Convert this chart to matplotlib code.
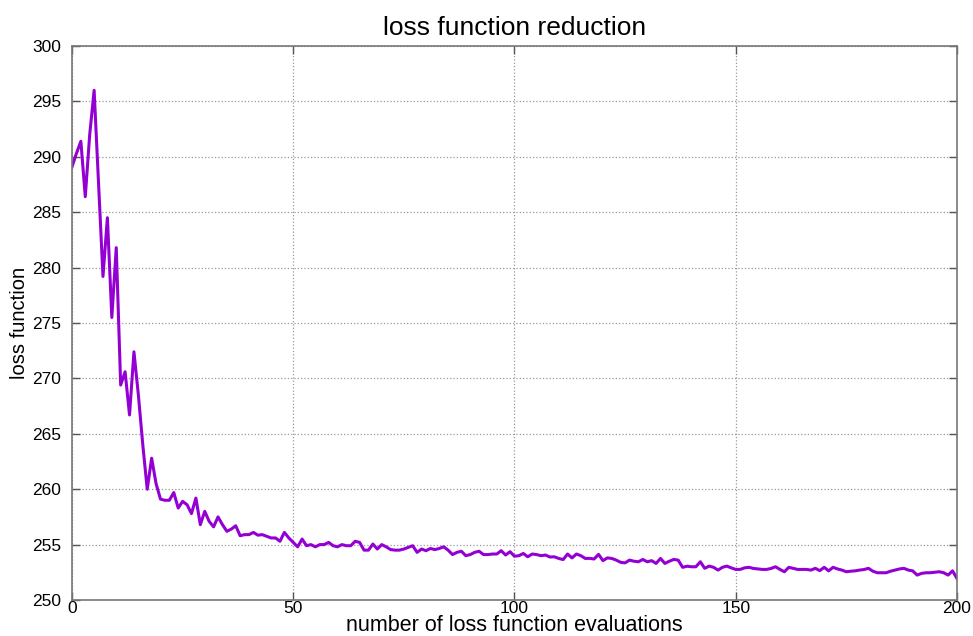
import matplotlib
matplotlib.use("Agg")
import matplotlib.pyplot as plt

plt.rcParams['font.family'] = ['Liberation Sans', 'DejaVu Sans']

# loss value at each evaluation
loss = [
    289.1, 290.3, 291.4, 286.4, 292.0, 296.0, 287.5, 279.2, 284.5, 275.5,
    281.8, 269.4, 270.6, 266.7, 272.4, 268.5, 264.0, 260.0, 262.8, 260.5,
    259.1, 259.0, 259.0, 259.7, 258.3, 258.9, 258.6, 257.8, 259.2, 256.8,
    258.0, 257.1, 256.6, 257.5, 256.8, 256.2, 256.4, 256.7, 255.8, 255.9,
    255.9, 256.1, 255.85, 255.9, 255.75, 255.6, 255.6, 255.3, 256.1, 255.6,
    255.2, 254.8, 255.5, 254.9, 255.0, 254.8, 255.0, 255.0, 255.2, 254.9,
    254.8, 255.0, 254.9, 254.9, 255.3, 255.2, 254.5, 254.5, 255.05, 254.6,
    255.0, 254.8, 254.55, 254.5, 254.5, 254.6, 254.75, 254.9, 254.3, 254.6,
    254.45, 254.65, 254.55, 254.65, 254.8, 254.5, 254.1, 254.3, 254.4, 254.0,
    254.1, 254.3, 254.4, 254.1, 254.1, 254.15, 254.15, 254.45, 254.06, 254.36,
    253.95, 254.0, 254.2, 253.9, 254.15, 254.1, 254.0, 254.06, 253.88, 253.9,
    253.75, 253.65, 254.15, 253.8, 254.15, 254.0, 253.75, 253.76, 253.7, 254.12,
    253.55, 253.8, 253.75, 253.6, 253.4, 253.35, 253.6, 253.5, 253.45, 253.66,
    253.45, 253.55, 253.3, 253.75, 253.3, 253.5, 253.66, 253.6, 252.95, 253.05,
    253.0, 253.0, 253.45, 252.86, 253.06, 252.95, 252.7, 252.95, 253.06, 252.9,
    252.76, 252.76, 252.9, 252.95, 252.85, 252.8, 252.76, 252.76, 252.85, 253.0,
    252.76, 252.55, 252.95, 252.85, 252.76, 252.76, 252.76, 252.7, 252.86, 252.65,
    252.95, 252.63, 252.95, 252.8, 252.7, 252.55, 252.6, 252.63, 252.7, 252.75,
    252.86, 252.6, 252.46, 252.46, 252.46, 252.6, 252.7, 252.8, 252.86, 252.7,
    252.63, 252.25, 252.4, 252.46, 252.46, 252.5, 252.55, 252.46, 252.25, 252.63,
    251.95,
]
evals = list(range(len(loss)))
x_ticks = [0, 50, 100, 150, 200]
y_ticks = [250, 255, 260, 265, 270, 275, 280, 285, 290, 295, 300]

fig = plt.figure(figsize=(9.73, 6.36), dpi=100)
ax = fig.add_axes([0.074, 0.0566, 0.9095, 0.8711])

ax.plot(evals, loss, color='#9400d3', linewidth=2.2)

ax.set_xlim(0, 200)
ax.set_ylim(250, 300)
ax.set_xticks(x_ticks)
ax.set_yticks(y_ticks)
ax.grid(True, linestyle=':', color='#999999', linewidth=0.9)
ax.tick_params(direction='in', top=True, right=True, length=6, width=1,
               color='#555555', labelsize=12.5)
ax.tick_params(axis='x', pad=1)
ax.tick_params(axis='y', pad=8)
for s in ax.spines.values():
    s.set_color('#777777')
    s.set_linewidth(1.2)

ax.set_title('loss function reduction', fontsize=19, pad=8)
ax.set_xlabel('number of loss function evaluations', fontsize=15.5, labelpad=-1)
ax.set_ylabel('loss function', fontsize=14.5, labelpad=2)

fig.savefig('out.png', dpi=100)
